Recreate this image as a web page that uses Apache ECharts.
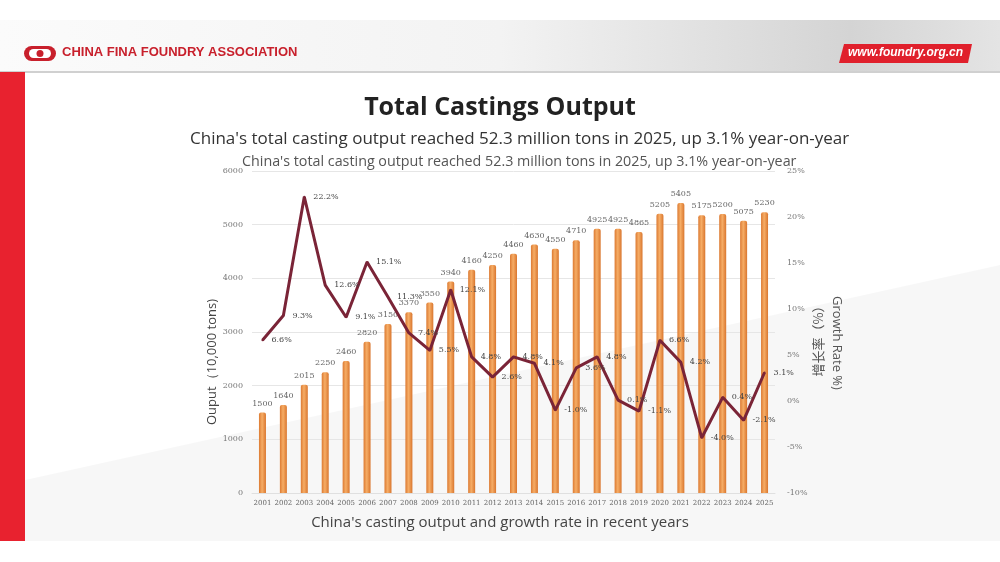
<!DOCTYPE html>
<html>
<head>
<meta charset="utf-8">
<script src="https://cdn.jsdelivr.net/npm/echarts@6/dist/echarts.min.js"></script>
<style>
html,body{margin:0;padding:0;background:#fff;}
#c{width:1000px;height:562px;}
</style>
</head>
<body>
<div id="c"></div>
<script>
var years = ['2001','2002','2003','2004','2005','2006','2007','2008','2009','2010','2011','2012','2013','2014','2015','2016','2017','2018','2019','2020','2021','2022','2023','2024','2025'];
var output = [1500,1640,2015,2250,2460,2820,3150,3370,3550,3940,4160,4250,4460,4630,4550,4710,4925,4925,4865,5205,5405,5175,5200,5075,5230];
var growth = [6.6,9.3,22.2,12.6,9.1,15.1,11.3,7.4,5.5,12.1,4.8,2.6,4.8,4.1,-1.0,3.6,4.8,0.1,-1.1,6.6,4.2,-4.0,0.4,-2.1,3.1];
var leftTicks = {min:0, max:6000, interval:1000};
var rightTicks = {min:-10, max:25, interval:5};

var chart = echarts.init(document.getElementById('c'));
var FONT = '"Open Sans", "Noto Sans", sans-serif';

chart.setOption({
  backgroundColor: '#ffffff',
  animation: false,
  graphic: [
    {type:'polygon', z:-10, silent:true, shape:{points:[[25,480],[1000,265],[1000,541],[25,541]]}, style:{fill:'rgba(0,0,0,0.03)'}},
    {type:'rect', z:-9, silent:true, shape:{x:0,y:20,width:1000,height:52}, style:{fill:{type:'linear',x:0,y:0,x2:1,y2:0,colorStops:[{offset:0,color:'#fbfbfb'},{offset:0.5,color:'#f3f3f3'},{offset:0.85,color:'#d4d4d4'},{offset:1,color:'#e4e4e4'}]}}},
    {type:'rect', z:-8, silent:true, shape:{x:0,y:71,width:1000,height:2}, style:{fill:'#d0d0d0'}},
    {type:'rect', z:-8, silent:true, shape:{x:0,y:72,width:25,height:469}, style:{fill:'#e8222f'}},
    {type:'rect', silent:true, shape:{x:24,y:46,width:32,height:15,r:7.5}, style:{fill:'#c8202c'}},
    {type:'rect', silent:true, shape:{x:29,y:49,width:22,height:9,r:4.5}, style:{fill:'#ffffff'}},
    {type:'circle', silent:true, shape:{cx:40,cy:53.5,r:3.5}, style:{fill:'#c8202c'}},
    {type:'text', silent:true, left:62, top:46, style:{text:'CHINA FINA FOUNDRY ASSOCIATION', fill:'#c8202c', font:'bold 13px "Liberation Sans", Arial, sans-serif'}},
    {type:'polygon', silent:true, shape:{points:[[844,44],[972,44],[968,63],[839,63]]}, style:{fill:'#e0202c'}},
    {type:'text', silent:true, left:848, top:47, style:{text:'www.foundry.org.cn', fill:'#ffffff', font:'italic bold 12px "Liberation Sans", Arial, sans-serif'}},
    {type:'text', silent:true, left:'center', top:95, style:{text:'Total Castings Output', fill:'#222', font:'bold 25px ' + FONT}},
    {type:'text', silent:true, left:190, top:131, style:{text:"China's total casting output reached 52.3 million tons in 2025, up 3.1% year-on-year", fill:'#333', font:'17px ' + FONT}},
    {type:'text', silent:true, left:242, top:155, style:{text:"China's total casting output reached 52.3 million tons in 2025, up 3.1% year-on-year", fill:'#555', font:'14.3px ' + FONT}},
    {type:'text', silent:true, left:'center', top:515, style:{text:"China's casting output and growth rate in recent years", fill:'#444', font:'15px ' + FONT}},
    {type:'text', silent:true, x:212, y:362, rotation:Math.PI/2, style:{text:'Ouput（10,000 tons)', fill:'#444', font:'13px ' + FONT, align:'center', verticalAlign:'middle'}},
    {type:'text', silent:true, x:818, y:338, rotation:Math.PI/2, style:{text:'增长率（%）', fill:'#555', font:'13px "Noto Sans CJK SC", sans-serif', align:'center', verticalAlign:'middle'}},
    {type:'text', silent:true, x:837, y:343, rotation:-Math.PI/2, style:{text:'Growth Rate %)', fill:'#555', font:'13px ' + FONT, align:'center', verticalAlign:'middle'}}
  ],
  grid: {left:252, right:225, top:171, bottom:69, containLabel:false},
  xAxis: {
    type:'category', data: years,
    axisLine:{show:true, lineStyle:{color:'#e0e0e0'}},
    axisTick:{show:false},
    axisLabel:{color:'#666', fontSize:7, margin:7, interval:0, fontFamily:'"DejaVu Serif", serif'}
  },
  yAxis: [
    {type:'value', min:leftTicks.min, max:leftTicks.max, interval:leftTicks.interval,
     axisLine:{show:false}, axisTick:{show:false},
     axisLabel:{color:'#777', fontSize:8, margin:9, fontFamily:'"DejaVu Serif", serif', formatter:function(v){return String(v);}},
     splitLine:{show:true, lineStyle:{color:'#e6e6e6', width:1}}},
    {type:'value', min:rightTicks.min, max:rightTicks.max, interval:rightTicks.interval, position:'right',
     axisLine:{show:false}, axisTick:{show:false},
     axisLabel:{color:'#777', fontSize:8, margin:12, formatter:'{value}%', fontFamily:'"DejaVu Serif", serif'},
     splitLine:{show:false}}
  ],
  series: [
    {type:'bar', name:'Output', data: output, yAxisIndex:0, barWidth:7,
     itemStyle:{color:{type:'linear',x:0,y:0,x2:1,y2:0,colorStops:[{offset:0,color:'#dc7a32'},{offset:0.45,color:'#f6ad66'},{offset:1,color:'#d9762e'}]}, borderRadius:[2,2,0,0]},
     label:{show:true, position:'top', distance:5, color:'#666', fontSize:8, fontFamily:'"DejaVu Serif", serif'}},
    {type:'line', name:'Growth', data: growth, yAxisIndex:1, symbol:'circle', symbolSize:2, showSymbol:true, showAllSymbol:true, z:5,
     itemStyle:{color:'#7a2437'},
     lineStyle:{color:'#7a2437', width:3},
     label:{show:true, position:'right', distance:8, color:'#444', fontSize:8, fontFamily:'"DejaVu Serif", serif',
       formatter:function(p){return Number(p.value).toFixed(1)+'%';}}}
  ]
});
</script>
</body>
</html>
